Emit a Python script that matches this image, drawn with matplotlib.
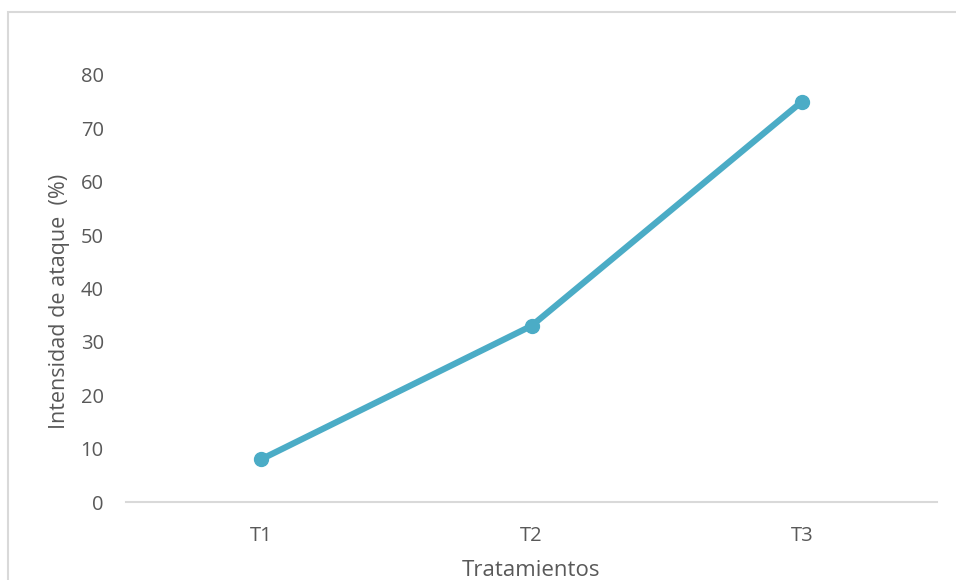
import matplotlib
matplotlib.use("Agg")
import matplotlib.pyplot as plt
from matplotlib.patches import Rectangle

# attack intensity per treatment
tratamientos = ["T1", "T2", "T3"]
intensidad = [8, 33, 75]

W, H = 956, 580
plt.rcParams['font.family'] = ['Open Sans', 'DejaVu Sans']
text_color = '#595959'
line_color = '#4BACC6'

fig = plt.figure(figsize=(W / 100, H / 100), dpi=100)
ax = fig.add_axes([126 / W, 1 - 502 / H, (937 - 126) / W, (502 - 75) / H])

x = list(range(len(tratamientos)))
ax.plot(x, intensidad, color=line_color, lw=4.5, marker='o', ms=10,
        solid_capstyle='round', clip_on=False)

ax.set_xlim(-0.5, len(tratamientos) - 0.5)
ax.set_ylim(0, 80)
ax.set_yticks(range(0, 81, 10))
ax.set_xticks(x)
ax.set_xticklabels(tratamientos)

for s in ['top', 'right', 'left']:
    ax.spines[s].set_visible(False)
ax.spines['bottom'].set_color('#d9d9d9')
ax.spines['bottom'].set_linewidth(1.5)
ax.tick_params(axis='both', length=0, labelsize=14.5, colors=text_color)
ax.tick_params(axis='y', pad=16)
ax.tick_params(axis='x', pad=17)

ax.set_xlabel('Tratamientos', fontsize=16, color=text_color, labelpad=10)
ax.set_ylabel('Intensidad de ataque  (%)', fontsize=15.5, color=text_color)
ax.yaxis.set_label_coords(-0.069, 0.47)

# chart frame
fig.patches.append(Rectangle((8 / W, -0.1), 1.1, 1 - 12 / H + 0.1,
                             transform=fig.transFigure, fill=False,
                             ec='#d9d9d9', lw=1.5))

fig.savefig('out.png', dpi=100)
